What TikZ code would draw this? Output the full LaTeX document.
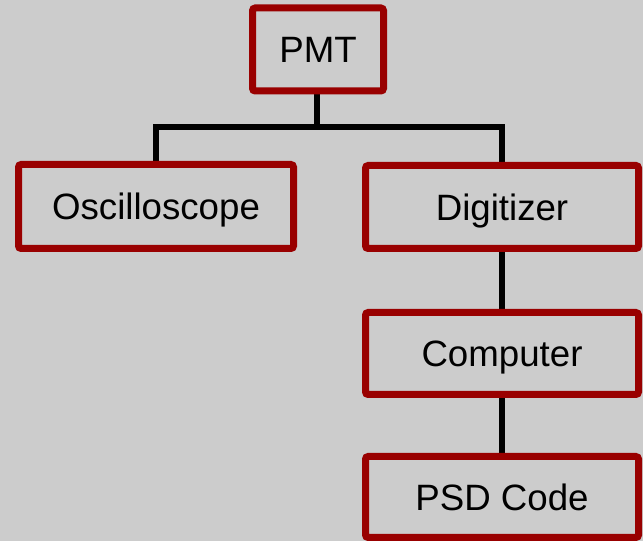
\documentclass[tikz,border=0pt]{standalone}
\usepackage{fontspec}
\setmainfont{Liberation Sans}
\usetikzlibrary{backgrounds}
\definecolor{boxred}{HTML}{990000}
\definecolor{paper}{HTML}{CCCCCC}
\tikzset{
  stage/.style={draw=boxred,line width=5.25pt,fill=paper,rounded corners=2pt,
    inner sep=0pt,text height=19.7pt,text depth=0pt,
    font=\fontsize{27.5}{30}\selectfont},
  wire/.style={draw=black,line width=3.9pt}
}
\begin{document}
\begin{tikzpicture}[x={(0.75pt,0)},y={(0,-0.75pt)}]
      \useasboundingbox (0,0) rectangle (643,541);
      \node[stage,minimum width=98.25pt,minimum height=62.25pt] (pmt) at (318,49.5) {PMT};
      \node[stage,minimum width=206.25pt,minimum height=63pt] (osc) at (156,206.5) {Oscilloscope};
      \node[stage,minimum width=204.75pt,minimum height=62.25pt] (dig) at (502,207) {Digitizer};
      \node[stage,minimum width=204.75pt,minimum height=61.5pt] (comp) at (502,353.5) {Computer};
      \node[stage,minimum width=204.75pt,minimum height=60.75pt] (psd) at (502,497) {PSD Code};
      \coordinate (split) at (317,127);
      \begin{scope}[on background layer]
      \fill[paper] (0,0) rectangle (643,541);
      \draw[wire] (317,49.5) -- (split);
      \draw[wire] (osc.center) |- (split) -| (dig.center);
      \draw[wire] (dig) -- (comp);
      \draw[wire] (comp) -- (psd);
      \end{scope}
\end{tikzpicture}
\end{document}
